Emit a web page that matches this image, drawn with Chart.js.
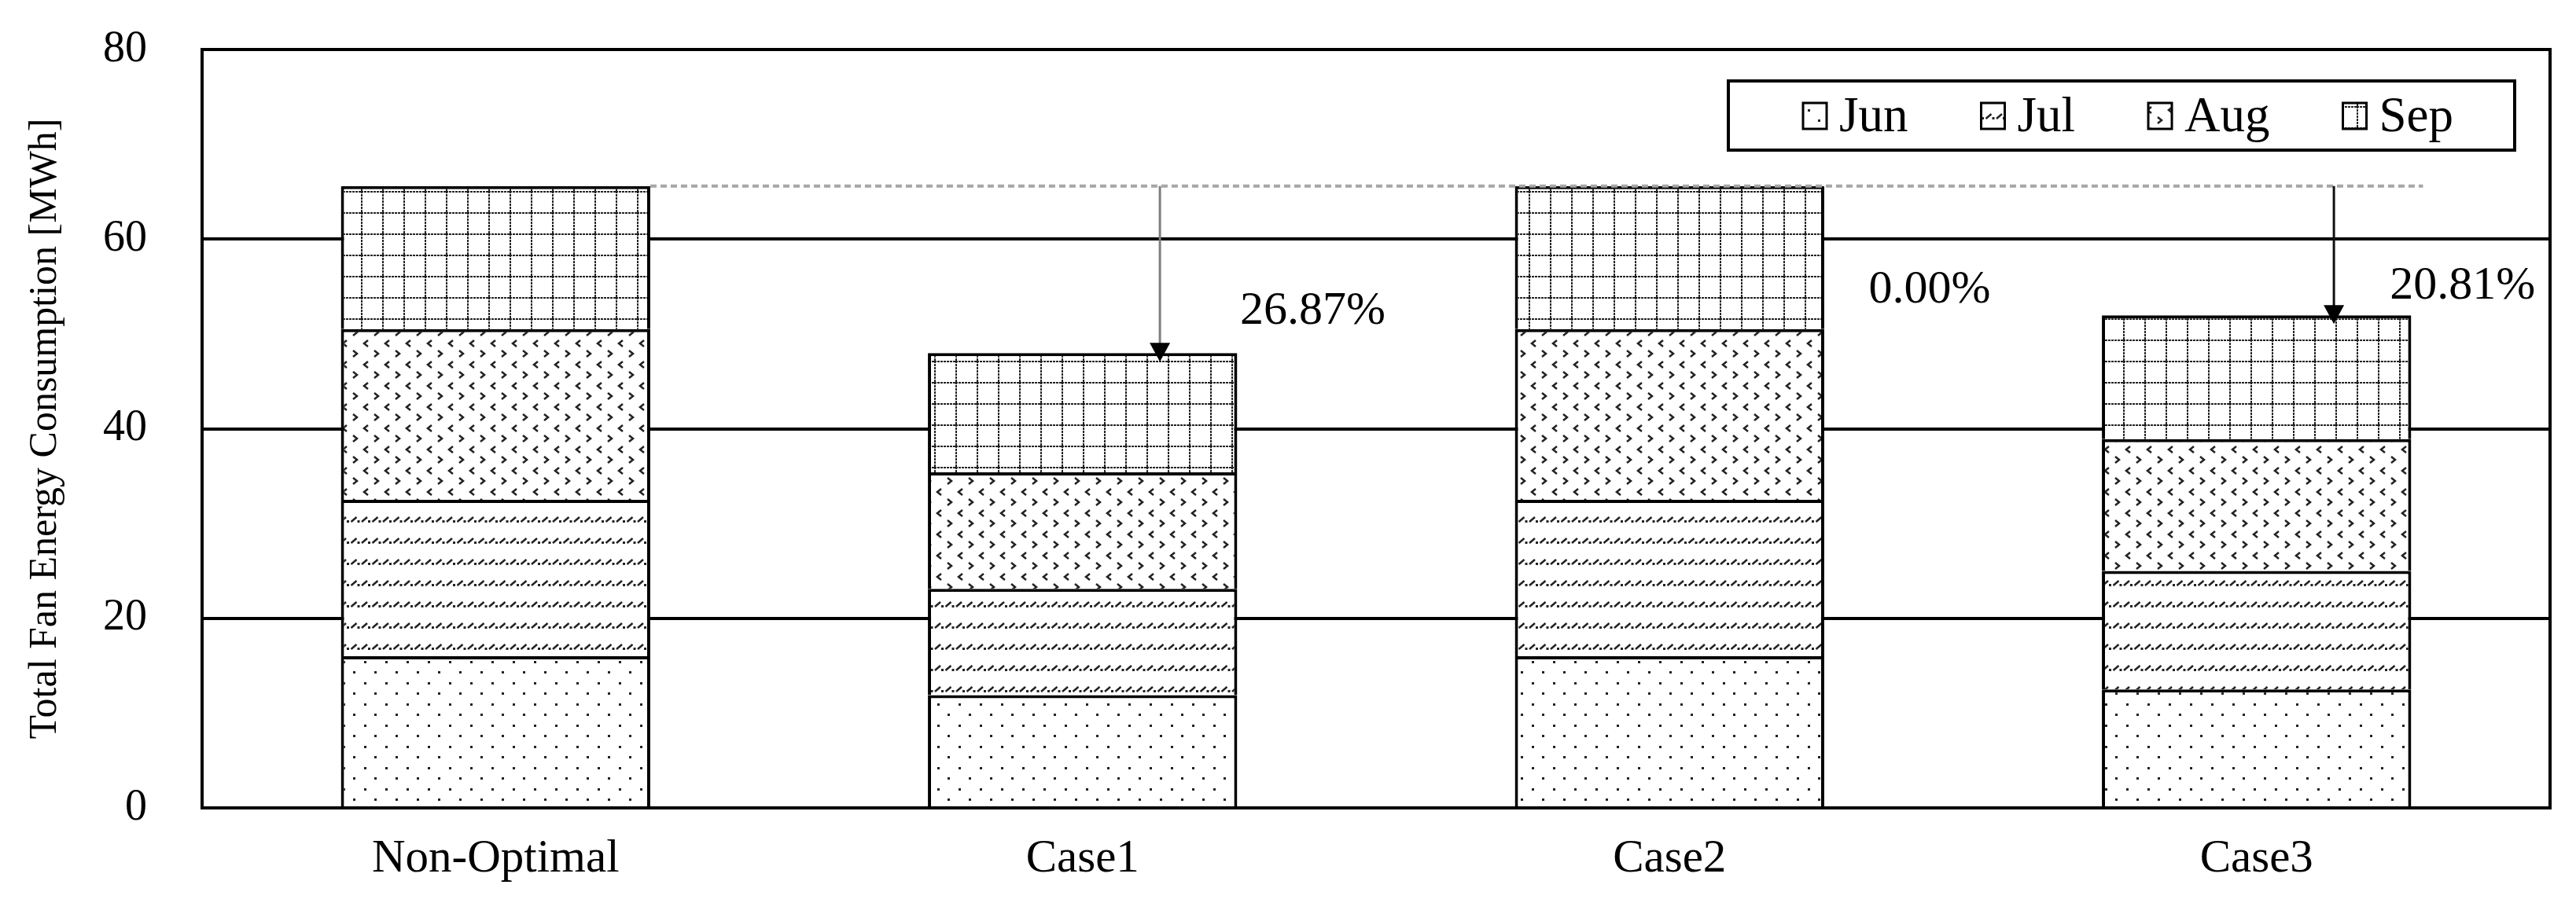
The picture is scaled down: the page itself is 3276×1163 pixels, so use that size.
<!DOCTYPE html>
<html>
<head>
<meta charset="utf-8">
<script src="https://cdn.jsdelivr.net/npm/chart.js@4.4.1/dist/chart.umd.min.js"></script>
<style>
  html, body { margin: 0; padding: 0; background: #fff; }
</style>
</head>
<body>
<canvas id="chart" width="3276" height="1163"></canvas>
<script>
// chart data
const categories = ['Non-Optimal', 'Case1', 'Case2', 'Case3'];
const months = ['Jun', 'Jul', 'Aug', 'Sep'];
const junValues = [16.0, 11.9, 16.0, 12.5];
const julValues = [16.5, 11.2, 16.5, 12.5];
const augValues = [18.0, 12.3, 18.0, 13.9];
const sepValues = [15.1, 12.57, 15.1, 13.05];
const reductionLabels = ['', '26.87%', '0.00%', '20.81%'];
const yTicks = [0, 20, 40, 60, 80];

const seriesValues = [junValues, julValues, augValues, sepValues];
const FONT = '"Liberation Serif", "Times New Roman", serif';

// where the percentage texts sit: offset from the bar centre (in categories) and baseline height (in MWh)
const labelPlacement = [null, { dx: 0.392, v: 51.1 }, { dx: 0.443, v: 53.3 }, { dx: 0.351, v: 53.7 }];

const canvas = document.getElementById('chart');
const ctx = canvas.getContext('2d');

function makePattern(kind) {
  const size = 27;
  const tile = document.createElement('canvas');
  tile.width = size;
  tile.height = size;
  const g = tile.getContext('2d');
  g.fillStyle = '#fff';
  g.fillRect(0, 0, size, size);
  g.fillStyle = '#222';
  g.strokeStyle = '#222';
  if (kind === 'dots') {
    g.fillRect(4, 4, 3, 3);
    g.fillRect(17, 17, 3, 3);
  } else if (kind === 'slash') {
    g.lineWidth = 2.5;
    [0, 13.5].forEach(x => {
      g.beginPath();
      g.moveTo(x + 1, 16);
      g.lineTo(x + 8, 10);
      g.stroke();
      g.fillRect(x + 9, 14, 3, 3);
    });
  } else if (kind === 'chevron') {
    g.lineWidth = 2.5;
    g.beginPath(); g.moveTo(9, 1); g.lineTo(4, 5); g.lineTo(9, 9); g.stroke();
    g.beginPath(); g.moveTo(17, 14); g.lineTo(22, 18); g.lineTo(17, 22); g.stroke();
  } else if (kind === 'grid') {
    for (let x = 0; x < size; x += 4) g.fillRect(x, 0, 3, 2);
    for (let y = 0; y < size; y += 4) g.fillRect(0, y, 2, 3);
  }
  return ctx.createPattern(tile, 'repeat');
}

const patterns = ['dots', 'slash', 'chevron', 'grid'].map(makePattern);

const totals = categories.map((_, i) => seriesValues.reduce((s, arr) => s + arr[i], 0));

const reductionPlugin = {
  id: 'reduction',
  afterDatasetsDraw(chart) {
    const { ctx, scales: { x, y } } = chart;
    const topMeta = chart.getDatasetMeta(seriesValues.length - 1);
    const refY = y.getPixelForValue(totals[0]);
    const first = topMeta.data[0];
    const last = topMeta.data[topMeta.data.length - 1];

    ctx.save();
    ctx.strokeStyle = '#a6a6a6';
    ctx.lineWidth = 4;
    ctx.setLineDash([8, 5]);
    ctx.beginPath();
    ctx.moveTo(first.x + first.width / 2, refY);
    ctx.lineTo(last.x + last.width / 2 + 15, refY);
    ctx.stroke();
    ctx.setLineDash([]);

    categories.forEach((c, i) => {
      if (i === 0 || totals[i] >= totals[0] - 0.01) return;
      const bar = topMeta.data[i];
      const ax = bar.x + bar.width * 0.25;
      const tipY = y.getPixelForValue(totals[i]) + 11;
      ctx.strokeStyle = i === 1 ? '#7f7f7f' : '#111';
      ctx.lineWidth = 3;
      ctx.beginPath();
      ctx.moveTo(ax, refY);
      ctx.lineTo(ax, tipY - 20);
      ctx.stroke();
      ctx.fillStyle = '#000';
      ctx.beginPath();
      ctx.moveTo(ax - 13, tipY - 24);
      ctx.lineTo(ax + 13, tipY - 24);
      ctx.lineTo(ax, tipY);
      ctx.closePath();
      ctx.fill();
    });

    ctx.fillStyle = '#000';
    ctx.font = '60px ' + FONT;
    ctx.textAlign = 'center';
    ctx.textBaseline = 'alphabetic';
    reductionLabels.forEach((txt, i) => {
      const p = labelPlacement[i];
      if (!txt || !p) return;
      ctx.fillText(txt, x.getPixelForValue(i + p.dx), y.getPixelForValue(p.v));
    });
    ctx.restore();
  },
  afterDraw(chart) {
    const { ctx, chartArea: a } = chart;
    ctx.save();
    // plot frame
    ctx.strokeStyle = '#000';
    ctx.lineWidth = 4;
    ctx.strokeRect(a.left, a.top, a.right - a.left, a.bottom - a.top);

    // boxed legend in the top right of the plot
    const bw = 1000, bh = 88;
    const bx = a.right - 45 - bw, by = a.top + 40;
    ctx.fillStyle = '#fff';
    ctx.fillRect(bx, by, bw, bh);
    ctx.lineWidth = 4;
    ctx.strokeRect(bx, by, bw, bh);
    ctx.font = '63px ' + FONT;
    ctx.textAlign = 'left';
    ctx.textBaseline = 'middle';
    let mx = bx + 95;
    const my = by + bh / 2;
    chart.data.datasets.forEach(ds => {
      ctx.fillStyle = ds.backgroundColor;
      ctx.fillRect(mx, my - 16, 30, 33);
      ctx.lineWidth = 3;
      ctx.strokeRect(mx, my - 16, 30, 33);
      ctx.fillStyle = '#000';
      ctx.fillText(ds.label, mx + 46, my + 3);
      mx += 46 + ctx.measureText(ds.label).width + 93;
    });
    ctx.restore();
  }
};

new Chart(ctx, {
  type: 'bar',
  data: {
    labels: categories,
    datasets: months.map((m, i) => ({
      label: m,
      data: seriesValues[i],
      backgroundColor: patterns[i],
      borderColor: '#000',
      borderWidth: 4,
      borderSkipped: 'start',
      barPercentage: 0.527,
      categoryPercentage: 1.0
    }))
  },
  options: {
    responsive: false,
    animation: false,
    devicePixelRatio: 1,
    layout: { padding: { left: 0, top: 63, right: 33, bottom: 0 } },
    plugins: {
      legend: { display: false },
      tooltip: { enabled: false }
    },
    scales: {
      x: {
        stacked: true,
        grid: { display: false, drawTicks: false },
        border: { display: false },
        ticks: { color: '#000', font: { family: FONT, size: 59 }, padding: 30 },
        afterFit: s => { s.height = 135; }
      },
      y: {
        stacked: true,
        min: 0,
        max: 80,
        afterBuildTicks: s => { s.ticks = yTicks.map(v => ({ value: v })); },
        // invisible tick marks push the labels away from the axis
        grid: { color: '#000', lineWidth: 4, drawTicks: true, tickLength: 70, tickColor: 'rgba(0,0,0,0)' },
        border: { display: false },
        ticks: { color: '#000', font: { family: FONT, size: 56 }, padding: 0 },
        title: {
          display: true,
          text: 'Total Fan Energy Consumption [MWh]',
          color: '#000',
          font: { family: FONT, size: 50 },
          padding: { top: 28, bottom: 0 }
        },
        afterFit: s => { s.width = 257; }
      }
    }
  },
  plugins: [reductionPlugin]
});
</script>
</body>
</html>
